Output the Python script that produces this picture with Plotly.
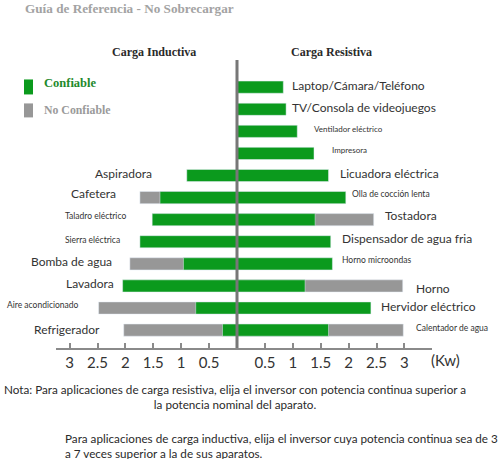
import plotly.graph_objects as go

# ---------------- data ----------------
resistive_items = ["Laptop/Cámara/Teléfono", "TV/Consola de videojuegos", "Ventilador eléctrico",
                   "Impresora", "Licuadora eléctrica", "Olla de cocción lenta", "Tostadora",
                   "Dispensador de agua fria", "Horno microondas", "Horno", "Hervidor eléctrico",
                   "Calentador de agua"]
resistive_reliable = [0.83, 0.88, 1.08, 1.38, 1.64, 1.95, 1.40, 1.68, 1.71, 1.22, 2.40, 1.64]
resistive_limit = [None, None, None, None, None, None, 2.45, None, None, 2.97, None, 2.98]

inductive_items = ["Aspiradora", "Cafetera", "Taladro eléctrico", "Sierra eléctrica",
                   "Bomba de agua", "Lavadora", "Aire acondicionado", "Refrigerador"]
inductive_reliable = [0.90, 1.38, 1.52, 1.74, 0.96, 2.05, 0.74, 0.26]
inductive_limit = [None, 1.74, None, None, 1.92, None, 2.48, 2.03]

tick_values = [0.5, 1, 1.5, 2, 2.5, 3]
tick_labels = ["0.5", "1", "1.5", "2", "2.5", "3"]

# ---------------- styling ----------------
GREEN = "#0b9a1d"
GRAY = "#979797"
W, H = 500, 459
L, R, T, B = 56, 68, 59.5, 111
PW, PH = W - L - R, H - T - B

SANS = "Lato, 'Open Sans', sans-serif"
SERIF = "'Liberation Serif', 'DejaVu Serif', serif"
NARROW = "'Liberation Sans Narrow', Lato, sans-serif"
LABEL_COLOR = "#333333"

res_rows = list(range(len(resistive_items)))
ind_rows = list(range(len(resistive_items) - len(inductive_items), len(resistive_items)))


def px(x):
    return (x - L) / PW


def py(y):
    return (H - B - y) / PH


fig = go.Figure()

# gray (not reliable range) first, green over it
fig.add_trace(go.Bar(y=ind_rows, x=[-v if v is not None else None for v in inductive_limit],
                     orientation="h", marker_color=GRAY, width=0.55, hoverinfo="skip"))
fig.add_trace(go.Bar(y=res_rows, x=resistive_limit, orientation="h",
                     marker_color=GRAY, width=0.55, hoverinfo="skip"))
fig.add_trace(go.Bar(y=ind_rows, x=[-v for v in inductive_reliable], orientation="h",
                     marker_color=GREEN, width=0.55, hoverinfo="skip"))
fig.add_trace(go.Bar(y=res_rows, x=resistive_reliable, orientation="h",
                     marker_color=GREEN, width=0.55, hoverinfo="skip"))

# per-label style: (font size, x gap px, y shift px, family)
res_style = [(12, 7, 2, SANS), (12, 4, 2, SANS), (8, 15, 2, NARROW), (8, 16, 3, SANS),
             (12, 9, 2, SANS), (8.5, 4, 4, SANS), (12, 9, 4, SANS), (12, 9, 3, SANS),
             (8.5, 8, 4, SANS), (12, 11, -3, SANS), (12, 8, 2, SANS), (8.5, 11, 2, SANS)]
ind_style = [(12, 33, 2, SANS), (12, 22, 4, SANS), (8.5, 24, 4, SANS), (8.5, 18, 2, SANS),
             (12, 16, 2, SANS), (12, 7, 2, SANS), (8.5, 18, 3, SANS), (12, 22, 1, SANS)]

ann = []
for i, name in enumerate(resistive_items):
    end = max(v for v in (resistive_reliable[i], resistive_limit[i]) if v is not None)
    fs, gap, ys, fam = res_style[i]
    ann.append(dict(x=end, y=res_rows[i], xref="x", yref="y", text=name, showarrow=False,
                    xanchor="left", yanchor="middle", xshift=gap, yshift=ys,
                    font=dict(family=fam, size=fs, color=LABEL_COLOR)))
for i, name in enumerate(inductive_items):
    end = max(v for v in (inductive_reliable[i], inductive_limit[i]) if v is not None)
    fs, gap, ys, fam = ind_style[i]
    ann.append(dict(x=-end, y=ind_rows[i], xref="x", yref="y", text=name, showarrow=False,
                    xanchor="right", yanchor="middle", xshift=-gap, yshift=ys,
                    font=dict(family=fam, size=fs, color=LABEL_COLOR)))

# titles
ann.append(dict(x=px(23), y=py(8), xref="paper", yref="paper", text="<b>Guía de Referencia - No Sobrecargar</b>",
                showarrow=False, xanchor="left", yanchor="middle",
                font=dict(family=SERIF, size=13.2, color="#a3a3a3")))
ann.append(dict(x=px(153.5), y=py(51), xref="paper", yref="paper", text="<b>Carga Inductiva</b>",
                showarrow=False, xanchor="center", yanchor="middle",
                font=dict(family=SERIF, size=12, color="#2a2a2a")))
ann.append(dict(x=px(331), y=py(51), xref="paper", yref="paper", text="<b>Carga Resistiva</b>",
                showarrow=False, xanchor="center", yanchor="middle",
                font=dict(family=SERIF, size=12, color="#2a2a2a")))
# legend
ann.append(dict(x=px(42), y=py(83), xref="paper", yref="paper", text="<b>Confiable</b>",
                showarrow=False, xanchor="left", yanchor="middle",
                font=dict(family=SERIF, size=12.5, color="#1f8a2c")))
ann.append(dict(x=px(42), y=py(110), xref="paper", yref="paper", text="<b>No Confiable</b>",
                showarrow=False, xanchor="left", yanchor="middle",
                font=dict(family=SERIF, size=11.8, color="#9a9a9a")))
# unit
ann.append(dict(x=px(445), y=py(360), xref="paper", yref="paper", text="(Kw)",
                showarrow=False, xanchor="center", yanchor="middle",
                font=dict(family=SANS, size=15, color="#333333")))
# notes
ann.append(dict(x=px(235), y=py(397), xref="paper", yref="paper",
                text="Nota: Para aplicaciones de carga resistiva, elija el inversor con potencia continua superior a<br>la potencia nominal del aparato.",
                showarrow=False, xanchor="center", yanchor="middle", align="center",
                font=dict(family=SANS, size=11.7, color="#2a2a2a")))
ann.append(dict(x=px(63), y=py(446), xref="paper", yref="paper",
                text="Para aplicaciones de carga inductiva, elija el inversor cuya potencia continua sea de 3<br>a 7 veces superior a la de sus aparatos.",
                showarrow=False, xanchor="left", yanchor="middle", align="left",
                font=dict(family=SANS, size=11.7, color="#2a2a2a")))

shapes = [
    dict(type="line", xref="x", yref="paper", x0=0, x1=0, y0=0, y1=1,
         line=dict(color="#777777", width=3)),
    dict(type="rect", xref="paper", yref="paper", x0=px(24), x1=px(33), y0=py(94), y1=py(79),
         fillcolor=GREEN, line=dict(width=0)),
    dict(type="rect", xref="paper", yref="paper", x0=px(24), x1=px(33), y0=py(117), y1=py(103),
         fillcolor=GRAY, line=dict(width=0)),
]

fig.update_layout(
    width=W, height=H, margin=dict(l=L, r=R, t=T, b=B, pad=0),
    plot_bgcolor="white", paper_bgcolor="white",
    barmode="overlay", showlegend=False,
    annotations=ann, shapes=shapes,
    xaxis=dict(range=[-(237 - L) / 55.8, (W - R - 237) / 55.8],
               tickvals=[-v for v in tick_values] + tick_values,
               ticktext=tick_labels + tick_labels,
               showgrid=False, zeroline=False, showline=True, linecolor="#8a8a8a", linewidth=2,
               ticks="inside", ticklen=5, tickwidth=1.5, tickcolor="#8a8a8a",
               tickfont=dict(family=SANS, size=15, color="#333333"), fixedrange=True),
    yaxis=dict(range=[11.81, -1.23], visible=False, fixedrange=True),
)

fig.write_html("out.html", config={"displayModeBar": False},
               post_script="document.body.style.margin='0';document.body.style.overflow='hidden';")
